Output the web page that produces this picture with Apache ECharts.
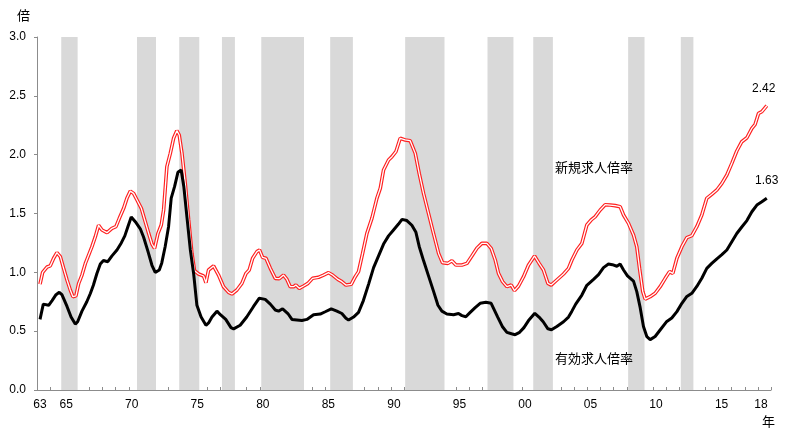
<!DOCTYPE html>
<html>
<head>
<meta charset="utf-8">
<script src="https://cdn.jsdelivr.net/npm/echarts@6/dist/echarts.min.js"></script>
<style>
html,body{margin:0;padding:0;background:#fff;}
#chart{width:800px;height:443px;}
</style>
</head>
<body>
<div id="chart"></div>
<script>
// 有効求人倍率 (black) - time in decimal years
const effYears = [1963.23,1963.48,1963.89,1964.15,1964.45,1964.70,1964.90,1965.29,1965.60,1965.92,1966.10,1966.43,1966.80,1967.07,1967.30,1967.57,1967.83,1968.07,1968.40,1968.72,1969.10,1969.43,1969.70,1969.94,1970.19,1970.50,1970.88,1971.13,1971.46,1971.77,1972.02,1972.33,1972.52,1972.78,1973.04,1973.24,1973.50,1973.75,1974.00,1974.20,1974.44,1974.70,1974.95,1975.20,1975.52,1975.89,1976.09,1976.35,1976.73,1976.99,1977.40,1977.80,1978.00,1978.50,1979.00,1979.52,1979.96,1980.41,1980.80,1981.18,1981.43,1981.74,1982.14,1982.45,1982.83,1983.21,1983.59,1984.10,1984.61,1984.99,1985.45,1985.88,1986.26,1986.57,1986.77,1987.15,1987.53,1987.90,1988.30,1988.68,1989.06,1989.44,1989.82,1990.20,1990.58,1990.85,1991.22,1991.60,1991.91,1992.16,1992.49,1992.87,1993.25,1993.59,1993.89,1994.27,1994.78,1995.16,1995.42,1995.72,1996.05,1996.43,1996.81,1997.25,1997.65,1997.85,1998.15,1998.50,1998.85,1999.20,1999.48,1999.82,2000.15,2000.50,2000.98,2001.30,2001.62,2001.98,2002.25,2002.66,2003.17,2003.55,2003.81,2004.10,2004.57,2004.95,2005.46,2005.84,2006.22,2006.60,2006.90,2007.24,2007.49,2007.75,2008.05,2008.51,2008.76,2009.02,2009.27,2009.53,2009.78,2010.16,2010.54,2011.05,2011.43,2011.82,2012.20,2012.58,2012.96,2013.34,2013.72,2014.10,2014.48,2014.87,2015.25,2015.63,2016.01,2016.39,2016.77,2017.16,2017.54,2017.92,2018.30,2018.68];
const effRatio = [0.60,0.73,0.72,0.76,0.81,0.83,0.81,0.71,0.62,0.56,0.58,0.67,0.75,0.82,0.89,0.99,1.07,1.10,1.09,1.14,1.19,1.25,1.31,1.39,1.47,1.43,1.37,1.30,1.18,1.06,1.00,1.02,1.08,1.22,1.39,1.63,1.73,1.85,1.87,1.73,1.47,1.19,0.99,0.72,0.62,0.55,0.57,0.62,0.67,0.64,0.60,0.53,0.52,0.55,0.62,0.71,0.78,0.77,0.73,0.68,0.67,0.69,0.65,0.60,0.595,0.59,0.60,0.64,0.645,0.665,0.69,0.67,0.65,0.61,0.595,0.62,0.66,0.76,0.90,1.04,1.14,1.24,1.31,1.36,1.41,1.45,1.44,1.40,1.34,1.22,1.10,0.97,0.84,0.72,0.67,0.646,0.64,0.65,0.632,0.623,0.66,0.70,0.737,0.745,0.737,0.69,0.62,0.54,0.49,0.478,0.47,0.49,0.53,0.59,0.652,0.62,0.58,0.52,0.512,0.54,0.58,0.62,0.67,0.73,0.807,0.89,0.94,0.98,1.04,1.07,1.065,1.052,1.07,1.02,0.97,0.925,0.836,0.70,0.54,0.453,0.428,0.455,0.51,0.583,0.612,0.666,0.737,0.795,0.822,0.88,0.95,1.034,1.076,1.115,1.15,1.19,1.26,1.33,1.385,1.44,1.515,1.572,1.60,1.63];

// 新規求人倍率 (red)
const newYears = [1963.23,1963.43,1963.76,1964.01,1964.27,1964.52,1964.78,1965.03,1965.29,1965.54,1965.74,1965.97,1966.18,1966.43,1966.69,1966.94,1967.19,1967.45,1967.70,1967.96,1968.34,1968.72,1969.02,1969.28,1969.61,1969.86,1970.12,1970.37,1970.63,1970.96,1971.26,1971.52,1971.77,1971.97,1972.23,1972.48,1972.66,1972.91,1973.17,1973.42,1973.67,1973.85,1974.06,1974.31,1974.57,1974.82,1975.02,1975.33,1975.71,1975.89,1976.09,1976.47,1976.85,1977.23,1977.62,1977.87,1978.25,1978.63,1978.94,1979.19,1979.45,1979.78,1979.98,1980.21,1980.47,1980.80,1981.18,1981.48,1981.81,1982.07,1982.32,1982.58,1982.75,1983.01,1983.34,1983.67,1984.02,1984.48,1984.86,1985.24,1985.55,1985.96,1986.26,1986.57,1986.97,1987.28,1987.53,1987.84,1988.17,1988.55,1988.93,1989.19,1989.44,1989.82,1990.08,1990.38,1990.71,1991.09,1991.47,1991.86,1992.16,1992.49,1992.87,1993.25,1993.64,1993.94,1994.35,1994.65,1994.96,1995.42,1995.80,1996.18,1996.56,1996.94,1997.32,1997.65,1997.96,1998.21,1998.52,1998.85,1999.18,1999.43,1999.74,2000.12,2000.50,2000.96,2001.31,2001.64,2001.98,2002.23,2002.66,2003.17,2003.55,2003.81,2004.19,2004.57,2004.95,2005.28,2005.59,2005.97,2006.35,2006.73,2007.11,2007.49,2007.75,2008.13,2008.51,2008.76,2008.97,2009.22,2009.40,2009.78,2010.16,2010.54,2010.93,2011.26,2011.51,2011.82,2012.20,2012.58,2012.96,2013.34,2013.72,2014.10,2014.48,2014.87,2015.25,2015.63,2016.01,2016.39,2016.77,2017.16,2017.54,2017.79,2018.05,2018.30,2018.68];
const newRatio = [0.90,1.00,1.045,1.055,1.12,1.167,1.133,1.034,0.935,0.85,0.793,0.80,0.906,0.977,1.076,1.147,1.218,1.303,1.40,1.36,1.337,1.374,1.388,1.459,1.544,1.629,1.69,1.671,1.615,1.544,1.43,1.331,1.241,1.204,1.331,1.402,1.53,1.898,2.011,2.139,2.204,2.167,2.011,1.756,1.445,1.161,1.014,0.986,0.969,0.912,1.02,1.054,0.977,0.878,0.83,0.816,0.85,0.906,0.99,1.02,1.119,1.176,1.19,1.127,1.119,1.034,0.949,0.946,0.977,0.94,0.878,0.878,0.892,0.864,0.884,0.906,0.949,0.958,0.977,0.997,0.977,0.94,0.921,0.892,0.898,0.963,1.006,1.161,1.331,1.459,1.629,1.714,1.87,1.955,1.983,2.025,2.139,2.125,2.119,2.011,1.841,1.671,1.501,1.331,1.161,1.082,1.076,1.099,1.062,1.062,1.076,1.139,1.204,1.246,1.246,1.204,1.105,0.991,0.921,0.878,0.892,0.844,0.884,0.963,1.062,1.139,1.076,1.02,0.906,0.892,0.935,0.986,1.034,1.105,1.19,1.246,1.402,1.445,1.473,1.53,1.575,1.572,1.567,1.558,1.487,1.416,1.317,1.218,1.034,0.836,0.773,0.793,0.822,0.878,0.949,1.006,0.991,1.119,1.218,1.295,1.312,1.388,1.487,1.629,1.663,1.70,1.756,1.827,1.926,2.031,2.11,2.144,2.224,2.258,2.351,2.365,2.416];

// 景気後退期 (shaded)
const bandStart = [1964.85,1970.63,1973.85,1977.11,1980.11,1985.37,1991.09,1997.37,2000.86,2008.10,2012.12];
const bandEnd   = [1966.10,1972.08,1975.38,1978.10,1983.37,1987.10,1994.09,1999.35,2002.36,2009.35,2013.08];

const labelYears = [1963,1965,1970,1975,1980,1985,1990,1995,2000,2005,2010,2015,2018];

const chart = echarts.init(document.getElementById('chart'));

const effData = effYears.map((y, i) => [y, effRatio[i]]);
const newData = newYears.map((y, i) => [y, newRatio[i]]);
const bands = bandStart.map((s, i) => [{ xAxis: s }, { xAxis: bandEnd[i] }]);

const numFont = 'Liberation Sans, Arial, sans-serif';
const jpFont = 'Noto Sans CJK JP, sans-serif';

const option = {
	backgroundColor: '#fff',
	animation: false,
	grid: { left: 37, right: 29, top: 37, bottom: 53 },
	xAxis: {
		type: 'value',
		min: 1963,
		max: 2019,
		interval: 1,
		splitLine: { show: false },
		axisLine: { lineStyle: { color: '#8c8c8c', width: 1 } },
		axisTick: { inside: true, length: 3, lineStyle: { color: '#8c8c8c' } },
		axisLabel: {
			margin: 9,
			color: '#000',
			fontSize: 12,
			fontFamily: numFont,
			padding: [0, 0, 0, 6],
			formatter: function (v) {
				const y = Math.round(v);
				return labelYears.indexOf(y) >= 0 ? String(y % 100).padStart(2, '0') : '';
			}
		}
	},
	yAxis: {
		type: 'value',
		min: 0,
		max: 3,
		interval: 0.5,
		splitLine: { show: false },
		axisLine: { show: true, lineStyle: { color: '#8c8c8c', width: 1 } },
		axisTick: { show: true, length: 3, lineStyle: { color: '#8c8c8c' } },
		axisLabel: {
			margin: 11,
			color: '#000',
			fontSize: 12,
			fontFamily: numFont,
			formatter: v => v.toFixed(1)
		}
	},
	series: [
		{
			name: 'bands',
			type: 'line',
			data: [],
			z: 1,
			silent: true,
			markArea: {
				silent: true,
				itemStyle: { color: '#d9d9d9' },
				data: bands
			}
		},
		{
			name: '新規求人倍率',
			type: 'line',
			data: newData,
			showSymbol: false,
			z: 3,
			lineStyle: { color: '#ff2020', width: 3.6 }
		},
		{
			name: '新規求人倍率core',
			type: 'line',
			data: newData,
			showSymbol: false,
			z: 4,
			lineStyle: { color: '#ffffff', width: 1.3 }
		},
		{
			name: '有効求人倍率',
			type: 'line',
			data: effData,
			showSymbol: false,
			z: 5,
			lineStyle: { color: '#000', width: 3 }
		}
	],
	graphic: [
		{ type: 'text', z: 100, left: 17, top: 9, style: { text: '倍', font: '13px ' + jpFont, fill: '#000' } },
		{ type: 'text', z: 100, left: 762, top: 415, style: { text: '年', font: '13px ' + jpFont, fill: '#000' } },
		{ type: 'text', z: 100, left: 555, top: 161, style: { text: '新規求人倍率', font: '13px ' + jpFont, fill: '#000' } },
		{ type: 'text', z: 100, left: 555, top: 352, style: { text: '有効求人倍率', font: '13px ' + jpFont, fill: '#000' } },
		{ type: 'text', z: 100, left: 752, top: 83, style: { text: '2.42', font: '12px ' + numFont, fill: '#000' } },
		{ type: 'text', z: 100, left: 755, top: 175, style: { text: '1.63', font: '12px ' + numFont, fill: '#000' } }
	]
};

chart.setOption(option);
</script>
</body>
</html>
